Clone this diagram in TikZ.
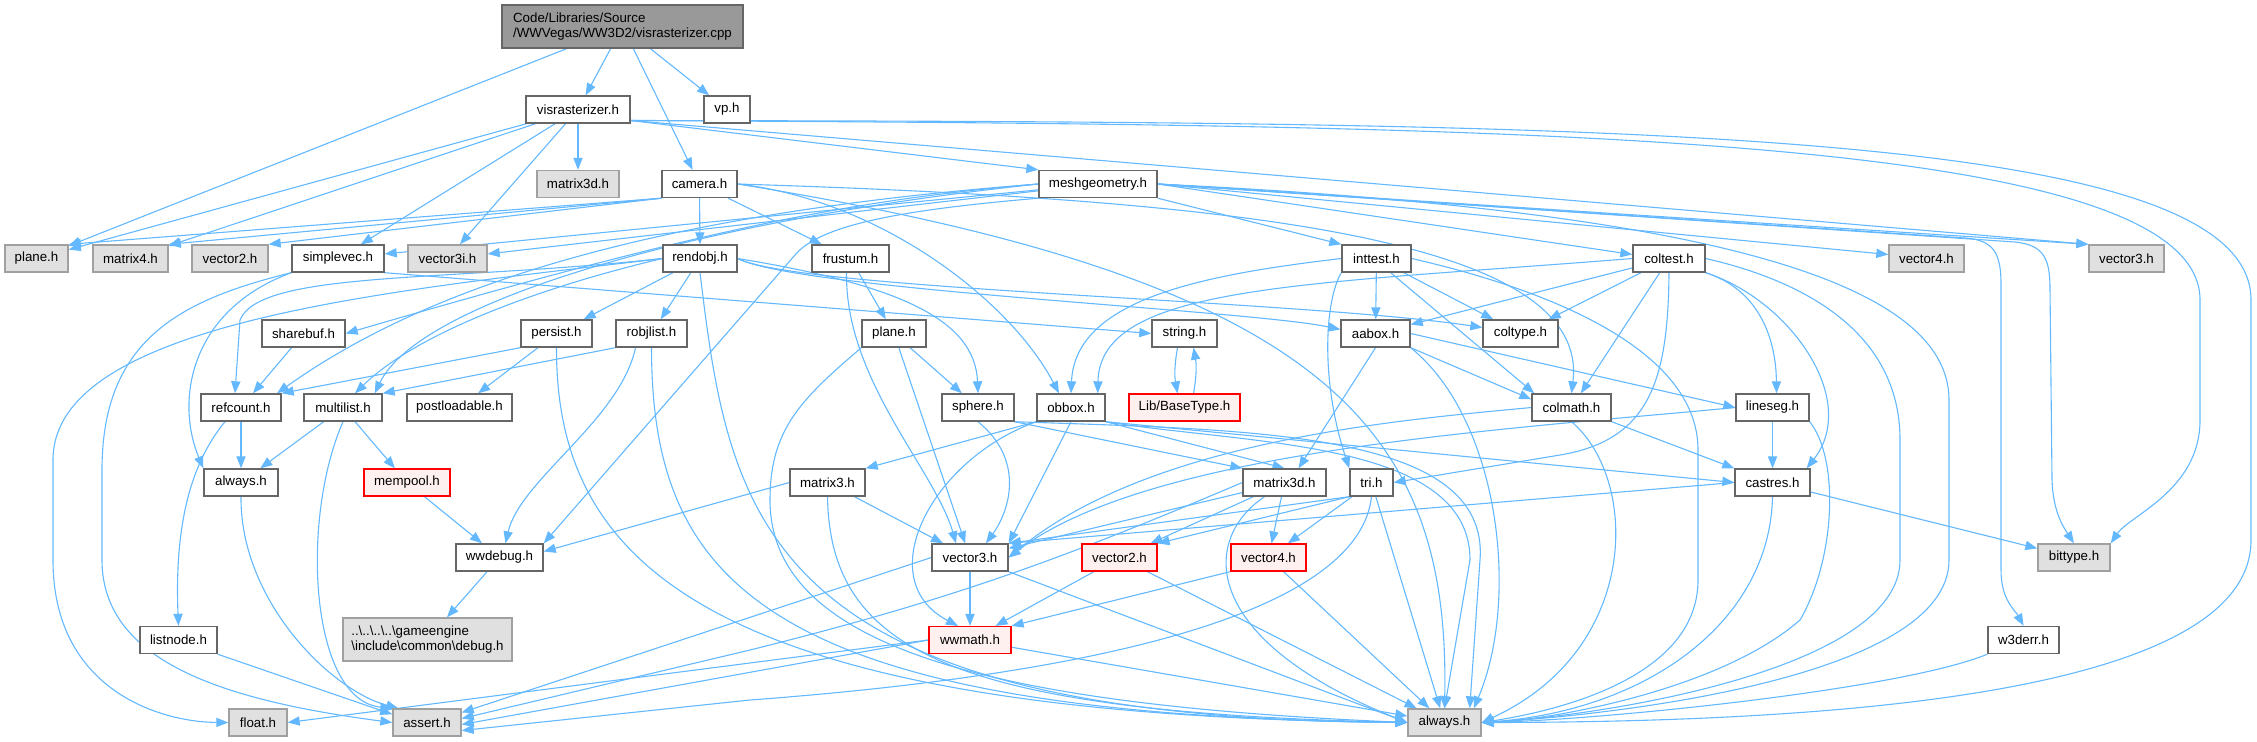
\documentclass[tikz,border=0pt]{standalone}
\usepackage{fontspec}
\setmainfont{Liberation Sans}
\usetikzlibrary{arrows.meta}
\definecolor{edgec}{HTML}{63B8FF}
\definecolor{nodeb}{HTML}{666666}
\definecolor{grayb}{HTML}{A0A0A0}
\definecolor{grayf}{HTML}{E0E0E0}
\definecolor{redb}{HTML}{FF0000}
\definecolor{redf}{HTML}{FFF0F0}
\definecolor{rootf}{HTML}{999999}
\newcommand\fs{\fontsize{6.65pt}{7.85pt}\selectfont}
\pgfdeclarelayer{bg}
\pgfsetlayers{bg,main}
\tikzset{
  nd/.style={draw=nodeb, fill=white, line width=0.7pt, minimum height=13.5pt, inner sep=0pt, font=\fs, text=black},
  gn/.style={nd, draw=grayb, fill=grayf},
  rn/.style={nd, draw=redb, fill=redf, line width=0.6pt},
  rootn/.style={nd, draw=nodeb, fill=rootf},
  ed/.style={draw=edgec, line width=0.55pt, -{Triangle[length=6pt,width=4.6pt]}},
}
\begin{document}
\begin{tikzpicture}[x=0.5pt,y=-0.5pt]
\useasboundingbox (0,0) rectangle (2257,741);
% rank 0
\node[rootn, minimum width=120.5pt, minimum height=21.5pt, align=left] (root) at (622.5,26.5) {Code/Libraries/Source\\/WWVegas/WW3D2/visrasterizer.cpp};
% rank 1
\node[nd, minimum width=52pt] (vis) at (578,109.5) {visrasterizer.h};
\node[nd, minimum width=23pt] (vp) at (727,109.5) {vp.h};
% rank 2
\node[gn, minimum width=41pt] (m3dg) at (578,184) {matrix3d.h};
\node[nd, minimum width=37.5pt] (camera) at (699.5,184) {camera.h};
\node[nd, minimum width=59pt] (mesh) at (1098,184) {meshgeometry.h};
% rank 3
\node[gn, minimum width=31.5pt] (planeg) at (36.5,258.5) {plane.h};
\node[gn, minimum width=37.5pt] (m4) at (130.5,258.5) {matrix4.h};
\node[gn, minimum width=38pt] (v2g) at (230,258.5) {vector2.h};
\node[nd, minimum width=46pt] (simplevec) at (338,258.5) {simplevec.h};
\node[gn, minimum width=39.5pt] (v3i) at (447.5,258.5) {vector3i.h};
\node[nd, minimum width=37pt] (rendobj) at (700,258.5) {rendobj.h};
\node[nd, minimum width=38.5pt] (frustum) at (850.5,258.5) {frustum.h};
\node[nd, minimum width=34.5pt] (inttest) at (1376.5,258.5) {inttest.h};
\node[nd, minimum width=36pt] (coltest) at (1669,258.5) {coltest.h};
\node[gn, minimum width=37.5pt] (v4g) at (1926.5,258.5) {vector4.h};
\node[gn, minimum width=37.5pt] (v3g) at (2126.5,258.5) {vector3.h};
% rank 4
\node[nd, minimum width=41.5pt] (sharebuf) at (303.5,333.5) {sharebuf.h};
\node[nd, minimum width=35.5pt] (persist) at (556.5,333.5) {persist.h};
\node[nd, minimum width=35.5pt] (robjlist) at (651.5,333.5) {robjlist.h};
\node[nd, minimum width=32pt] (plane) at (894,333.5) {plane.h};
\node[nd, minimum width=32.5pt] (string) at (1184.5,333.5) {string.h};
\node[nd, minimum width=34.5pt] (aabox) at (1375.5,333.5) {aabox.h};
\node[nd, minimum width=37.5pt] (coltype) at (1520.5,333.5) {coltype.h};
% rank 5
\node[nd, minimum width=40pt] (refcount) at (241,407.5) {refcount.h};
\node[nd, minimum width=39pt] (multilist) at (343,407.5) {multilist.h};
\node[nd, minimum width=52.5pt] (postloadable) at (459.5,407.5) {postloadable.h};
\node[nd, minimum width=36pt] (sphere) at (978,407.5) {sphere.h};
\node[nd, minimum width=34pt] (obbox) at (1071,407.5) {obbox.h};
\node[rn, minimum width=55.5pt] (basetype) at (1184.5,407.5) {Lib/BaseType.h};
\node[nd, minimum width=39.5pt] (colmath) at (1571.5,407.5) {colmath.h};
\node[nd, minimum width=36.5pt] (lineseg) at (1772.5,407.5) {lineseg.h};
% rank 6
\node[nd, minimum width=37pt] (always) at (241,482.5) {always.h};
\node[rn, minimum width=43pt] (mempool) at (407,482.5) {mempool.h};
\node[nd, minimum width=37.5pt] (matrix3) at (827.5,482.5) {matrix3.h};
\node[nd, minimum width=41.5pt] (matrix3d) at (1284.5,482.5) {matrix3d.h};
\node[nd, minimum width=21.5pt] (tri) at (1371.5,482.5) {tri.h};
\node[nd, minimum width=37.5pt] (castres) at (1772.5,482.5) {castres.h};
% rank 7
\node[nd, minimum width=43.5pt] (wwdebug) at (499.5,557.5) {wwdebug.h};
\node[nd, minimum width=38pt] (vector3) at (970,557.5) {vector3.h};
\node[rn, minimum width=37.5pt] (vector2) at (1119.5,557.5) {vector2.h};
\node[rn, minimum width=37.5pt] (vector4) at (1268.5,557.5) {vector4.h};
\node[gn, minimum width=36pt] (bittype) at (2074,557.5) {bittype.h};
% rank 8
\node[nd, minimum width=38.5pt] (listnode) at (178.5,640) {listnode.h};
\node[gn, minimum width=84.5pt, minimum height=21.5pt, align=left] (gedebug) at (427.5,639.5) {..\textbackslash..\textbackslash..\textbackslash..\textbackslash gameengine\\\textbackslash include\textbackslash common\textbackslash debug.h};
\node[rn, minimum width=41pt] (wwmath) at (970,640) {wwmath.h};
\node[nd, minimum width=35.5pt] (w3derr) at (2023.5,640) {w3derr.h};
% rank 9
\node[gn, minimum width=29pt] (float) at (258,722.5) {float.h};
\node[gn, minimum width=34pt] (assert) at (427,722.5) {assert.h};
\node[gn, minimum width=36.5pt] (alwaysg) at (1444.5,722.5) {always.h};

\coordinate (vr) at ([yshift=-5.5pt]vis.east);

\begin{pgfonlayer}{bg}
% root
\draw[ed] (root) -- (vis);
\draw[ed] (root) -- (vp);
\draw[ed] (root) -- (camera);
\draw[ed] (root) -- (planeg);
% visrasterizer.h
\draw[ed] (vis) -- (planeg);
\draw[ed] (vis) -- (m4);
\draw[ed] (vis) -- (simplevec);
\draw[ed] (vis) -- (v3i);
\draw[ed] (vis) -- (m3dg);
\draw[ed] (vr) -- (mesh.north west);
\draw[ed] (vr) -- (v3g.north west);
\draw[ed] (vr) .. controls (1500,125) and (2200,130) .. (2200,300) -- (2200,420) .. controls (2200,490) and (2130,515) .. (bittype.north east);
\draw[ed] (vr) .. controls (1600,122) and (2251,125) .. (2251,300) -- (2251,540) .. controls (2251,700) and (1800,722) .. (alwaysg.east);
% camera.h
\draw[ed] (camera.south west) -- (planeg.north east);
\draw[ed] (camera.south west) -- (m4.north east);
\draw[ed] (camera.south west) -- (v2g.north east);
\draw[ed] (camera) -- (rendobj);
\draw[ed] (camera) -- (frustum);
\draw[ed] (camera.east) .. controls (880,200) and (1010,300) .. ([xshift=-6pt]obbox.north);
\draw[ed] (camera.east) .. controls (1250,200) and (1590,240) .. (colmath.north);
\draw[ed] (camera.east) .. controls (1330,280) and (1450,430) .. (alwaysg.north);
% meshgeometry.h
\draw[ed] (mesh) -- (simplevec);
\draw[ed] (mesh) -- (v3i);
\draw[ed] (mesh.west) .. controls (850,200) and (700,230) .. (sharebuf.east);
\draw[ed] (mesh.west) .. controls (700,210) and (450,270) .. ([xshift=18pt]refcount.north);
\draw[ed] (mesh.west) .. controls (700,220) and (420,300) .. ([xshift=-4pt]multilist.north east);
\draw[ed] (mesh.south west) .. controls (900,210) and (820,225) .. (795,255) -- (wwdebug.north east);
\draw[ed] (mesh.south east) -- (inttest.north west);
\draw[ed] (mesh.east) -- ([yshift=2pt]coltest.west);
\draw[ed] (mesh.east) -- ([yshift=2pt]v4g.west);
\draw[ed] (mesh.east) -- (v3g.north west);
\draw[ed] (mesh.east) -- (2015,242) .. controls (2045,245) and (2050,260) .. (2050,290) -- (2052,480) .. controls (2053,510) and (2062,525) .. (bittype.north);
\draw[ed] (mesh.east) -- (1965,238) .. controls (1995,240) and (2001,255) .. (2001,285) -- (2001,570) .. controls (2001,600) and (2015,610) .. (w3derr.north);
\draw[ed] (mesh.east) .. controls (1700,210) and (1949,280) .. (1949,400) -- (1949,560) .. controls (1949,680) and (1600,716) .. (alwaysg.east);
% rendobj.h
\draw[ed] (rendobj.west) .. controls (400,290) and (53,320) .. (53,460) -- (53,560) .. controls (53,690) and (160,722) .. (float.west);
\draw[ed] (rendobj.west) .. controls (450,282) and (260,270) .. (240,320) -- ([xshift=-3pt]refcount.north);
\draw[ed] (rendobj.west) .. controls (550,285) and (420,330) .. ([xshift=6pt]multilist.north);
\draw[ed] (rendobj) -- (persist);
\draw[ed] (rendobj) -- (robjlist);
\draw[ed] (rendobj.east) .. controls (900,285) and (975,320) .. (sphere.north);
\draw[ed] (rendobj.east) .. controls (800,290) and (1250,310) .. ([yshift=2pt]aabox.west);
\draw[ed] (rendobj.east) .. controls (800,290) and (1300,300) .. ([yshift=3pt]coltype.west);
\draw[ed] (rendobj.south) .. controls (730,520) and (760,718) .. (alwaysg.west);
% simplevec.h
\draw[ed] (simplevec.south east) -- (string.west);
\draw[ed] (simplevec.south west) .. controls (190,310) and (175,400) .. (always.north west);
\draw[ed] (simplevec.south west) .. controls (180,300) and (102,340) .. (102,470) -- (102,560) .. controls (102,660) and (220,700) .. (assert.west);
% sharebuf, persist, robjlist
\draw[ed] (sharebuf) -- (refcount);
\draw[ed] (persist.south west) -- (refcount.north east);
\draw[ed] (persist) -- (postloadable);
\draw[ed] (persist.south) .. controls (556,560) and (700,715) .. (alwaysg.west);
\draw[ed] (robjlist.south west) -- (multilist.north east);
\draw[ed] ([xshift=-8pt]robjlist.south) .. controls (620,420) and (520,480) .. ([xshift=3pt]wwdebug.north);
\draw[ed] (robjlist.south) .. controls (652,580) and (760,715) .. (alwaysg.west);
% frustum.h
\draw[ed] (frustum) -- (plane);
\draw[ed] ([xshift=-2pt]frustum.south) .. controls (845,380) and (935,470) .. ([xshift=-7pt]vector3.north);
% inttest.h
\draw[ed] (inttest) -- (aabox);
\draw[ed] (inttest) -- (coltype);
\draw[ed] ([xshift=-10.5pt]inttest.south east) -- ([xshift=1.5pt]colmath.north west);
\draw[ed] (inttest.south west) .. controls (1325,300) and (1320,380) .. (tri.north west);
\draw[ed] (inttest.west) .. controls (1200,275) and (1075,300) .. (obbox.north);
\draw[ed] (inttest.east) .. controls (1550,290) and (1698,350) .. (1698,450) -- (1698,580) .. controls (1698,680) and (1550,712) .. (alwaysg.east);
% coltest.h
\draw[ed] (coltest) -- (aabox);
\draw[ed] (coltest) -- (coltype);
\draw[ed] (coltest) -- (colmath);
\draw[ed] (coltest.south east) .. controls (1790,300) and (1860,400) .. ([xshift=-2pt]castres.north east);
\draw[ed] (coltest.south east) .. controls (1760,290) and (1776,340) .. ([xshift=2pt]lineseg.north);
\draw[ed] (coltest.south) .. controls (1668,380) and (1650,440) .. (1560,455) -- (tri.east);
\draw[ed] (coltest.west) .. controls (1300,285) and (1100,285) .. ([xshift=-4pt]obbox.north east);
\draw[ed] (coltest.east) .. controls (1800,280) and (1900,330) .. (1900,440) -- (1900,560) .. controls (1900,670) and (1600,716) .. (alwaysg.east);
% plane.h
\draw[ed] (plane) -- (sphere);
\draw[ed] (plane) -- (vector3);
\draw[ed] (plane.south west) .. controls (800,400) and (770,430) .. (770,500) .. controls (770,650) and (1000,705) .. (alwaysg.west);
% string.h / BaseType.h
\draw[ed] ([xshift=-3.5pt]string.south) to[bend right=10] ([xshift=-3.5pt]basetype.north);
\draw[ed] ([xshift=4.5pt]basetype.north) to[bend right=10] ([xshift=4.5pt]string.south);
% aabox.h
\draw[ed] (aabox.south) -- ([xshift=7pt]matrix3d.north);
\draw[ed] (aabox.south east) -- ([yshift=-3pt]colmath.north west);
\draw[ed] (aabox.east) -- (lineseg.west);
\draw[ed] (aabox.south east) .. controls (1500,420) and (1520,600) .. ([xshift=-4pt]alwaysg.north east);
% refcount, multilist, always, listnode, mempool, wwdebug
\draw[ed] (refcount) -- (always);
\draw[ed] ([xshift=-8pt]refcount.south) .. controls (185,470) and (175,540) .. (listnode.north);
\draw[ed] (multilist) -- (always);
\draw[ed] (multilist) -- (mempool);
\draw[ed] (multilist.south) .. controls (300,520) and (310,700) .. (assert.north west);
\draw[ed] (always.south) .. controls (240,600) and (330,690) .. ([xshift=3pt]assert.north west);
\draw[ed] (listnode.south east) -- ([yshift=-3pt]assert.north west);
\draw[ed] (mempool) -- (wwdebug);
\draw[ed] (wwdebug) -- (gedebug);
% sphere.h
\draw[ed] (sphere.south east) -- (matrix3d.north west);
\draw[ed] (sphere.south) .. controls (1025,460) and (1010,510) .. ([xshift=8pt]vector3.north);
\draw[ed] (sphere.south east) .. controls (1250,430) and (1490,430) .. (1480,560) -- ([xshift=-6pt]alwaysg.north east);
% obbox.h
\draw[ed] (obbox.south west) -- (matrix3.north east);
\draw[ed] (obbox.south) -- (vector3.north east);
\draw[ed] (obbox.south west) .. controls (930,460) and (870,580) .. ([xshift=-6pt]wwmath.north);
\draw[ed] (obbox.south east) -- (matrix3d.north);
\draw[ed] (obbox.south east) -- (castres.west);
\draw[ed] (obbox.south east) .. controls (1250,445) and (1470,440) .. (1470,560) -- (alwaysg.north);
% colmath, lineseg, castres
\draw[ed] (colmath.south east) -- (castres.north west);
\draw[ed] (colmath.west) .. controls (1400,420) and (1150,440) .. (vector3.east);
\draw[ed] (colmath.south) .. controls (1640,480) and (1640,650) .. (alwaysg.east);
\draw[ed] (lineseg) -- (castres);
\draw[ed] (lineseg.west) .. controls (1500,430) and (1150,450) .. (vector3.east);
\draw[ed] (lineseg.south east) .. controls (1840,460) and (1835,560) .. (1800,620) .. controls (1720,690) and (1550,720) .. (alwaysg.east);
\draw[ed] (castres) -- (bittype);
\draw[ed] (castres.west) -- (vector3.north east);
\draw[ed] (castres.south) .. controls (1770,620) and (1650,710) .. (alwaysg.east);
% matrix3, matrix3d, tri
\draw[ed] (matrix3) -- (vector3);
\draw[ed] (matrix3.west) -- ([yshift=3pt]wwdebug.east);
\draw[ed] (matrix3.south) .. controls (830,650) and (950,712) .. (alwaysg.west);
\draw[ed] (matrix3d) -- (vector3);
\draw[ed] (matrix3d) -- (vector2);
\draw[ed] (matrix3d) -- (vector4);
\draw[ed] (matrix3d.west) .. controls (1060,560) and (950,600) .. (750,650) -- ([yshift=2pt]assert.east);
\draw[ed] ([xshift=-10pt]matrix3d.south) .. controls (1200,540) and (1200,640) .. (alwaysg.west);
\draw[ed] (tri.south west) -- (vector3.north east);
\draw[ed] (tri.south west) -- (vector2.north east);
\draw[ed] (tri) -- (vector4);
\draw[ed] (tri) -- (alwaysg);
\draw[ed] (tri.south) .. controls (1360,600) and (1150,670) .. (750,700) -- ([yshift=-4pt]assert.east);
% vector3, vector2, vector4, wwmath, w3derr
\draw[ed] (vector3) -- (wwmath);
\draw[ed] (vector3.west) -- ([yshift=5pt]assert.east);
\draw[ed] (vector3.south east) -- (alwaysg.west);
\draw[ed] (vector2) -- (wwmath);
\draw[ed] (vector2) -- (alwaysg);
\draw[ed] (vector4.south west) -- (wwmath.north east);
\draw[ed] (vector4) -- (alwaysg);
\draw[ed] (wwmath.west) -- (float.east);
\draw[ed] (wwmath.west) -- ([yshift=-1pt]assert.east);
\draw[ed] (wwmath) -- (alwaysg);
\draw[ed] (w3derr.south west) .. controls (1900,690) and (1600,720) .. (alwaysg.east);
\end{pgfonlayer}
\end{tikzpicture}
\end{document}
